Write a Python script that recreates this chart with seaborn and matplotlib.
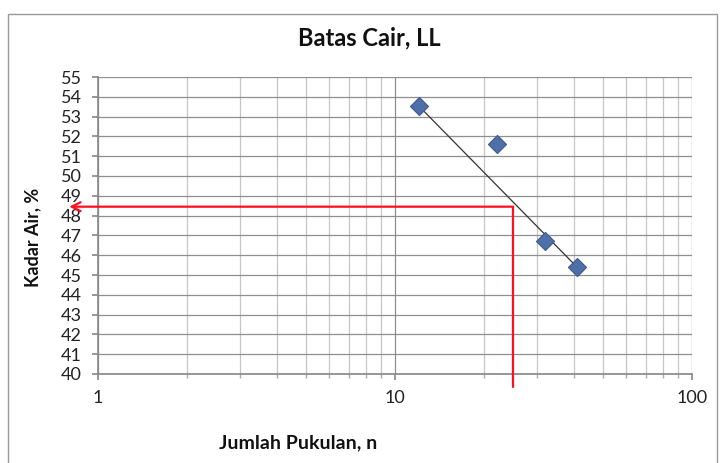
import matplotlib
matplotlib.use("Agg")
import matplotlib.pyplot as plt
import matplotlib.ticker as mticker
from matplotlib.patches import Rectangle
import seaborn as sns
import pandas as pd

# data
blows = [12, 22, 32, 41]
water_content = [53.55, 51.6, 46.7, 45.4]
trend_blows = [12, 41]
trend_water = [53.55, 45.4]
ll_blows = 25
ll_water = 48.45
y_ticks = list(range(40, 56))
x_ticks = [1, 10, 100]
x_tick_labels = ["1", "10", "100"]

sns.set_theme(style="white")
plt.rcParams['font.family'] = ['Lato', 'DejaVu Sans']

fig = plt.figure(figsize=(7.21, 4.63), dpi=100)
ax = fig.add_axes([98/721, 1-374/463, (692-98)/721, (374-77)/463])

df = pd.DataFrame({"n": blows, "w": water_content})
tdf = pd.DataFrame({"n": trend_blows, "w": trend_water})

ax.set_xscale("log")
ax.set_xlim(1, 100)
ax.set_ylim(40, 55)

# grid
ax.set_yticks(y_ticks)
ax.set_xticks(x_ticks)
ax.set_xticklabels(x_tick_labels)
ax.xaxis.set_minor_locator(mticker.LogLocator(base=10, subs=range(2, 10)))
ax.xaxis.set_minor_formatter(mticker.NullFormatter())
ax.grid(True, which="major", color="#8f8f8f", linewidth=0.9)
ax.grid(True, which="minor", axis="x", color="#c6c6c6", linewidth=0.9)
ax.set_axisbelow(True)

for side in ["top", "right"]:
    ax.spines[side].set_visible(False)
ax.spines["left"].set_color("#8a8a8a")
ax.spines["bottom"].set_color("#8a8a8a")

ax.tick_params(axis="both", which="major", direction="out", length=4.3, color="#8a8a8a",
               labelsize=13, labelcolor="#222222", left=True, bottom=True)
ax.tick_params(axis="x", which="major", pad=7.5)
ax.tick_params(axis="x", which="minor", direction="out", length=3, color="#aaaaaa", bottom=True)
ax.tick_params(axis="y", pad=7.5)

# trend line
sns.lineplot(data=tdf, x="n", y="w", ax=ax, color="#333333", linewidth=0.9, zorder=3)

# red LL lines
ax.plot([ll_blows, ll_blows], [39.35, ll_water], color="#ff1020", linewidth=1.6,
        clip_on=False, zorder=4)
ax.annotate("", xy=(0.80, ll_water), xytext=(ll_blows, ll_water),
            arrowprops=dict(arrowstyle="->", color="#ff1020", lw=1.6,
                            shrinkA=0, shrinkB=0, mutation_scale=16),
            annotation_clip=False, zorder=4)

# points
sns.scatterplot(data=df, x="n", y="w", ax=ax, marker="D", s=85,
                color="#4f6fa8", edgecolor="#3d5a8f", linewidth=0.8, zorder=5)

ax.set_xlabel("")
ax.set_ylabel("")

fig.text(369/721, 1-38/463, "Batas Cair, LL", ha="center", va="center",
         fontsize=17, fontweight="bold", color="#111111")
fig.text(298/721, 1-443/463, "Jumlah Pukulan, n", ha="center", va="center",
         fontsize=14, fontweight="bold", color="#111111")
fig.text(33/721, 1-237/463, "Kadar Air, %", ha="center", va="center",
         rotation=90, fontsize=13, fontweight="bold", color="#111111")

fig.patches.append(Rectangle((8/721, -0.05), (717-8)/721, 1.05-14/463,
                             transform=fig.transFigure, fill=False,
                             edgecolor="#9a9a9a", linewidth=1.0))

fig.savefig("out.png", dpi=100)
